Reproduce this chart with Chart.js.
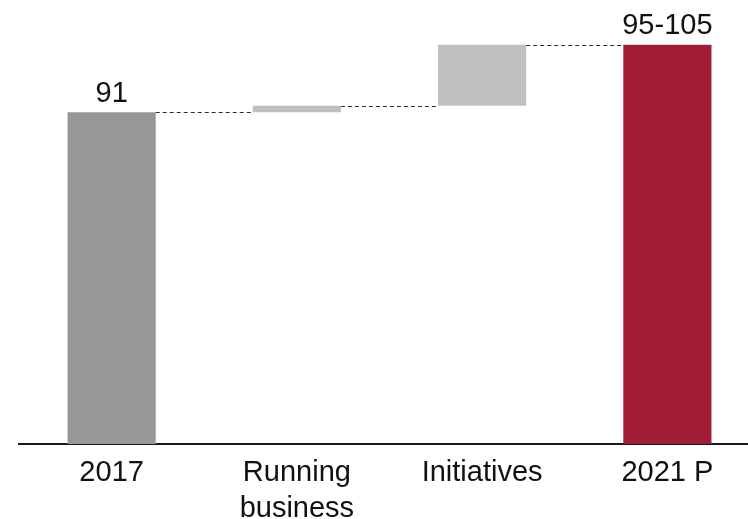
<!DOCTYPE html>
<html>
<head>
<meta charset="utf-8">
<script src="https://cdn.jsdelivr.net/npm/chart.js@4"></script>
<style>
    html, body { margin: 0; padding: 0; background: #fff; overflow: hidden; }
    #wrap { position: absolute; left: 0; top: 0; width: 760px; height: 519px; }
</style>
</head>
<body>
<div id="wrap"><canvas id="canvasBridge"></canvas></div>
<script>
const categories = ['2017', ['Running', 'business'], 'Initiatives', '2021 P'];
const barStart = [0, 91, 92.8, 0];
const barEnd = [91, 92.8, 109.5, 109.5];
const valueLabels = ['91', '', '', '95-105'];
const barColors = ['#979797', '#bfbfbf', '#bfbfbf', '#a11c37'];

const fontFamily = '"Liberation Sans", Arial, sans-serif';

const connectorPlugin = {
    id: 'connectors',
    afterDatasetsDraw(chart) {
        const ctx = chart.ctx;
        const meta = chart.getDatasetMeta(0);
        const y = chart.scales.y;
        ctx.save();
        ctx.strokeStyle = '#2a2a2a';
        ctx.lineWidth = 1;
        ctx.setLineDash([4, 3]);
        for (let i = 0; i < meta.data.length - 1; i++) {
            const a = meta.data[i];
            const b = meta.data[i + 1];
            const py = Math.round(y.getPixelForValue(barEnd[i])) + 0.5;
            ctx.beginPath();
            ctx.moveTo(a.x + a.width / 2, py);
            ctx.lineTo(b.x - b.width / 2, py);
            ctx.stroke();
        }
        ctx.restore();
    }
};

const valueLabelPlugin = {
    id: 'valueLabels',
    afterDatasetsDraw(chart) {
        const ctx = chart.ctx;
        const meta = chart.getDatasetMeta(0);
        ctx.save();
        ctx.fillStyle = '#111';
        ctx.font = '29px ' + fontFamily;
        ctx.textAlign = 'center';
        ctx.textBaseline = 'alphabetic';
        meta.data.forEach((bar, i) => {
            if (!valueLabels[i]) return;
            ctx.fillText(valueLabels[i], bar.x, bar.y - 10.5);
        });
        ctx.restore();
    }
};

const bridgeCanvas = document.getElementById('canvasBridge');
const bridgeChart = new Chart(bridgeCanvas, {
    type: 'bar',
    data: {
        labels: categories,
        datasets: [{
            data: barStart.map((s, i) => [s, barEnd[i]]),
            backgroundColor: barColors,
            borderWidth: 0,
            barPercentage: 0.476,
            categoryPercentage: 1
        }]
    },
    options: {
        responsive: true,
        maintainAspectRatio: false,
        animation: false,
        layout: { padding: { left: 19, right: 0, top: 0, bottom: 0 } },
        plugins: {
            legend: { display: false },
            tooltip: { enabled: false }
        },
        scales: {
            x: {
                grid: { display: false, drawTicks: false },
                border: { display: true, color: '#1a1a1a', width: 2 },
                ticks: {
                    color: '#111',
                    padding: 11,
                    maxRotation: 0,
                    autoSkip: false,
                    font: { family: fontFamily, size: 29, lineHeight: 1.24 }
                },
                afterFit: scale => { scale.height = 75; }
            },
            y: {
                display: false,
                min: 0,
                max: 121.8
            }
        }
    },
    plugins: [connectorPlugin, valueLabelPlugin]
});
</script>
</body>
</html>
